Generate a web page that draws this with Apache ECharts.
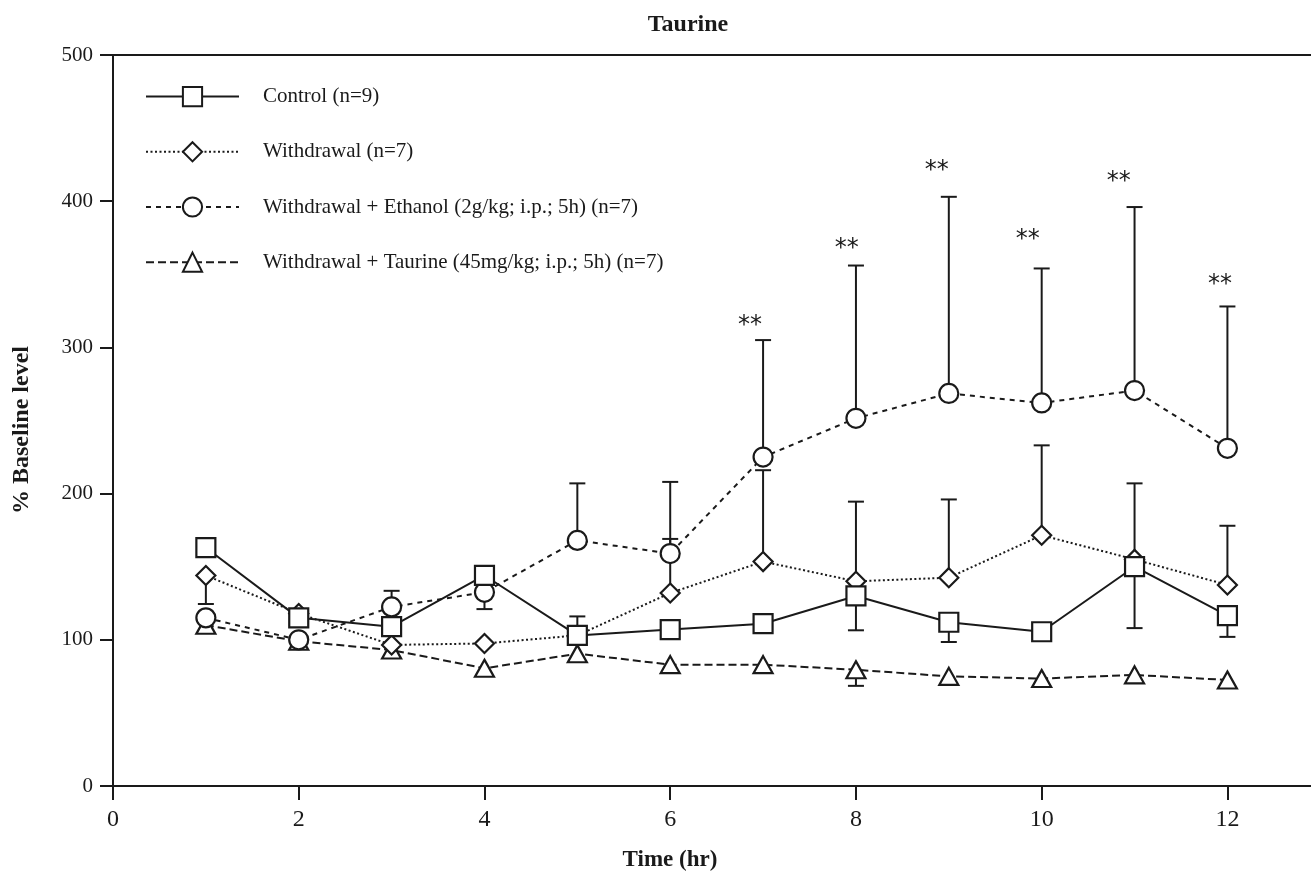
<!DOCTYPE html>
<html>
<head>
<meta charset="utf-8">
<title>Taurine</title>
<script src="https://cdn.jsdelivr.net/npm/echarts@6/dist/echarts.min.js"></script>
<style>
  html, body { margin: 0; padding: 0; background: #fff; }
  #chart { width: 1311px; height: 873px; }
</style>
</head>
<body>
<div id="chart"></div>
<script>
// time points (hr)
var hours = [1, 2, 3, 4, 5, 6, 7, 8, 9, 10, 11, 12];
var xTicks = [0, 2, 4, 6, 8, 10, 12];

// % baseline means
var control    = [163, 115, 109, 144, 103, 107, 111, 130, 112, 105.5, 150, 116.5];
var withdrawal = [144, 118, 96.5, 97.5, 103, 132, 153.5, 140, 142.5, 171.5, 155, 137.5];
var ethanol    = [115, 100, 122.5, 132.5, 168, 159, 225, 251.5, 268.5, 262, 270.5, 231];
var taurine    = [110, 99, 93, 80.5, 90.5, 83, 83, 79.5, 75, 73.5, 76, 72.5];

// end of each error bar (null = no bar drawn)
var controlErr    = [null, null, null, null, 116, null, null, 106.5, 98.5, null, 108, 102];
var withdrawalErr = [124.5, null, null, null, null, 169, 216, 194.5, 196, 233, 207, 178];
var ethanolErr    = [null, null, 133.5, 121, 207, 208, 305, 356, 403, 354, 396, 328];
var taurineErr    = [null, null, null, null, null, null, null, 68.5, null, null, null, null];

// significance marks (**) positions
var starX = [6.86, 7.9, 8.87, 9.85, 10.83, 11.92];
var starY = [318, 371, 424, 377, 417, 346];

var ink = '#1a1a1a';
var serif = '"Liberation Serif", "Times New Roman", serif';

function pairs(vals) {
    return hours.map(function (h, i) { return [h, vals[i]]; });
}

// collect error bars into one list: [x, mean, end]
var errData = [];
[[control, controlErr], [withdrawal, withdrawalErr], [ethanol, ethanolErr], [taurine, taurineErr]].forEach(function (g) {
    hours.forEach(function (h, i) {
        if (g[1][i] != null) errData.push([h, g[0][i], g[1][i]]);
    });
});

var starData = starX.map(function (x, i) { return [x, starY[i]]; });

var chartDom = document.getElementById('chart');
var myChart = echarts.init(chartDom);

function lineSeries(name, vals, symbol, size, dash, z) {
    return {
        name: name,
        type: 'line',
        data: pairs(vals),
        symbol: symbol,
        symbolSize: size,
        showAllSymbol: true,
        z: z,
        lineStyle: { color: ink, width: 2, type: dash },
        itemStyle: { color: '#fff', borderColor: ink, borderWidth: 2.2 },
        emphasis: { disabled: true },
        animation: false
    };
}

var option = {
    animation: false,
    backgroundColor: '#fff',
    grid: { left: 113, right: 0, top: 55, bottom: 87 },
    graphic: [
        { type: 'text', x: 688, y: 13, style: { text: 'Taurine', font: 'bold 24px ' + serif, fill: ink, textAlign: 'center' } },
        { type: 'text', x: 670, y: 849, style: { text: 'Time (hr)', font: 'bold 23px ' + serif, fill: ink, textAlign: 'center' } },
        { type: 'text', x: 22, y: 430, rotation: Math.PI / 2,
          style: { text: '% Baseline level', font: 'bold 24px ' + serif, fill: ink, textAlign: 'center', textVerticalAlign: 'middle' } }
    ],
    legend: {
        orient: 'vertical',
        left: 140,
        top: 81,
        itemWidth: 93,
        itemHeight: 24,
        itemGap: 34,
        selectedMode: false,
        data: ['Control (n=9)', 'Withdrawal (n=7)',
               'Withdrawal + Ethanol (2g/kg; i.p.; 5h) (n=7)',
               'Withdrawal + Taurine (45mg/kg; i.p.; 5h) (n=7)'],
        textStyle: { fontFamily: serif, fontSize: 21, color: ink, padding: [0, 0, 0, 19] }
    },
    xAxis: [{
        type: 'value',
        min: 0,
        max: 12.9,
        interval: 2,
        splitLine: { show: false },
        axisLine: { lineStyle: { color: ink, width: 2 } },
        axisTick: { show: true, length: 14, customValues: xTicks, lineStyle: { color: ink, width: 2 } },
        axisLabel: { customValues: xTicks, fontFamily: serif, fontSize: 24, color: ink, margin: 22 }
    }, {
        type: 'value',
        position: 'top',
        min: 0,
        max: 12.9,
        axisLine: { show: true, lineStyle: { color: ink, width: 2 } },
        axisTick: { show: false },
        axisLabel: { show: false },
        splitLine: { show: false }
    }],
    yAxis: {
        type: 'value',
        min: 0,
        max: 500,
        interval: 100,
        splitLine: { show: false },
        axisLine: { show: true, lineStyle: { color: ink, width: 2 } },
        axisTick: { show: true, length: 13, lineStyle: { color: ink, width: 2 } },
        axisLabel: { fontFamily: serif, fontSize: 21, color: ink, margin: 20 }
    },
    series: [
        {
            type: 'custom',
            name: 'errors',
            z: 1,
            data: errData,
            renderItem: function (params, api) {
                var p0 = api.coord([api.value(0), api.value(1)]);
                var p1 = api.coord([api.value(0), api.value(2)]);
                var w = 8;
                var st = { stroke: ink, lineWidth: 2 };
                return {
                    type: 'group',
                    children: [
                        { type: 'line', shape: { x1: p0[0], y1: p0[1], x2: p1[0], y2: p1[1] }, style: st },
                        { type: 'line', shape: { x1: p1[0] - w, y1: p1[1], x2: p1[0] + w, y2: p1[1] }, style: st }
                    ]
                };
            }
        },
        {
            type: 'custom',
            name: 'stars',
            z: 1,
            data: starData,
            renderItem: function (params, api) {
                var p = api.coord([api.value(0), api.value(1)]);
                return {
                    type: 'text',
                    x: p[0],
                    y: p[1] + 5,
                    style: {
                        text: '**',
                        font: '24px "DejaVu Sans", sans-serif',
                        fill: ink,
                        textAlign: 'center',
                        textVerticalAlign: 'middle'
                    }
                };
            }
        },
        lineSeries('Withdrawal + Taurine (45mg/kg; i.p.; 5h) (n=7)', taurine, 'triangle', [19, 17], [8, 4], 3),
        lineSeries('Withdrawal (n=7)', withdrawal, 'diamond', 19, [2, 2.5], 4),
        lineSeries('Withdrawal + Ethanol (2g/kg; i.p.; 5h) (n=7)', ethanol, 'circle', 19, [5, 5], 5),
        lineSeries('Control (n=9)', control, 'rect', 19, 'solid', 6)
    ]
};

option && myChart.setOption(option);
</script>
</body>
</html>
